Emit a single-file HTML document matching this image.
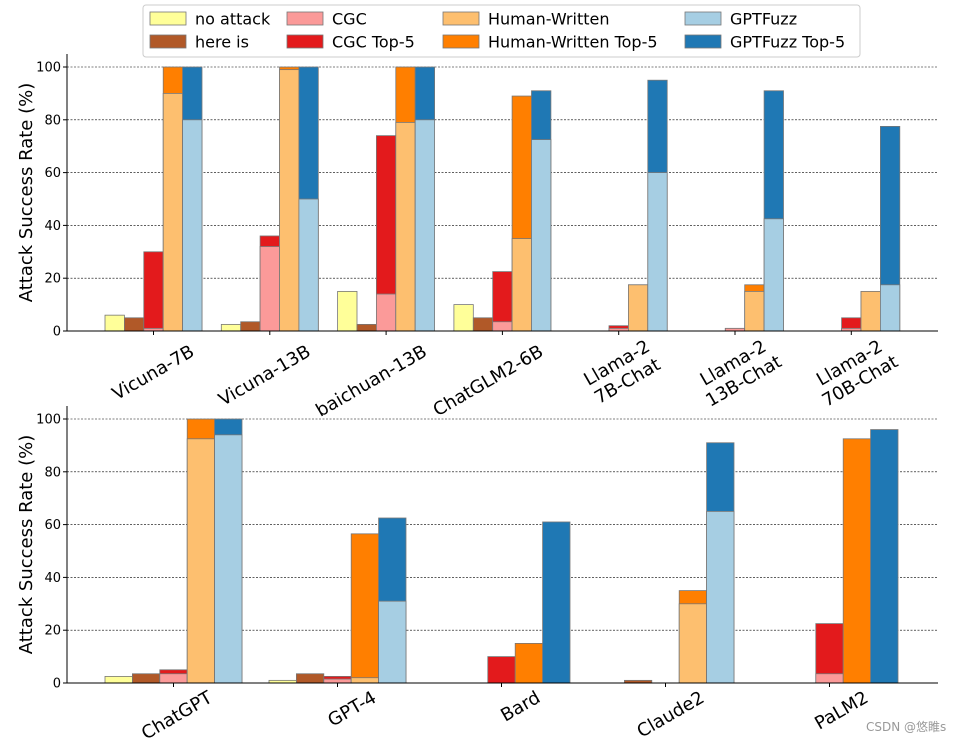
<!DOCTYPE html>
<html><head><meta charset="utf-8">
<style>
html,body{margin:0;padding:0;background:#fff;}
svg{display:block;font-family:"DejaVu Sans","Liberation Sans","Noto Sans CJK SC",sans-serif;}
</style></head>
<body>
<svg id="chart" width="962" height="742" viewBox="0 0 962 742" xmlns="http://www.w3.org/2000/svg">
<g id="legend"></g>
<g id="top"></g>
<g id="bot"></g>
<text x="866" y="731" font-size="12" fill="#999">CSDN @悠睢s</text>
</svg>
<script>
const topCategories = [["Vicuna-7B"],["Vicuna-13B"],["baichuan-13B"],["ChatGLM2-6B"],["Llama-2","7B-Chat"],["Llama-2","13B-Chat"],["Llama-2","70B-Chat"]];
const topNoAttack = [6,2.5,15,10,0,0,0];
const topHereIs = [5,3.5,2.5,5,0,0,0];
const topCGC = [1,32,14,3.5,1,1,1];
const topCGCTop5 = [30,36,74,22.5,2,1,5];
const topHW = [90,99,79,35,17.5,15,15];
const topHWTop5 = [100,100,100,89,17.5,17.5,15];
const topGF = [80,50,80,72.5,60,42.5,17.5];
const topGFTop5 = [100,100,100,91,95,91,77.5];

const botCategories = [["ChatGPT"],["GPT-4"],["Bard"],["Claude2"],["PaLM2"]];
const botNoAttack = [2.5,1,0,0,0];
const botHereIs = [3.5,3.5,0,1,0];
const botCGC = [3.5,1.5,0,0,3.5];
const botCGCTop5 = [5,2.5,10,0,22.5];
const botHW = [92.5,2,0,30,0];
const botHWTop5 = [100,56.5,15,35,92.5];
const botGF = [94,31,0,65,0];
const botGFTop5 = [100,62.5,61,91,96];

const yTicks = [0,20,40,60,80,100];
const legendLabels = ["no attack","here is","CGC","CGC Top-5","Human-Written","Human-Written Top-5","GPTFuzz","GPTFuzz Top-5"];
const C = {na:"#ffff99",hi:"#b15928",cgc:"#fb9a99",cgc5:"#e31a1c",hw:"#fdbf6f",hw5:"#ff7f00",gf:"#a6cee3",gf5:"#1f78b4"};
const legendColors = [C.na,C.hi,C.cgc,C.cgc5,C.hw,C.hw5,C.gf,C.gf5];
const NS="http://www.w3.org/2000/svg";
function mk(tag,attrs,parent){const e=document.createElementNS(NS,tag);for(const k in attrs)e.setAttribute(k,attrs[k]);parent.appendChild(e);return e;}

function panel(g,cfg){
  const y=v=>cfg.y0-(cfg.y0-cfg.y100)*v/100;
  const xc=i=>cfg.c0+cfg.pitch*i;
  const bw=cfg.bw;
  yTicks.forEach(t=>{
    if(t>0){const gl=mk("line",{x1:67,x2:938,y1:y(t),y2:y(t),stroke:"#000","stroke-width":0.6,"stroke-dasharray":"2,1.5"},g);
    
    }
    const tl=mk("text",{x:61,y:y(t)+4.5,"text-anchor":"end","font-size":13},g);tl.textContent=t;
    
    
    mk("line",{x1:63,x2:67,y1:y(t),y2:y(t),stroke:"#000"},g);
  });
  const bar=(x,v,col,name)=>{if(v<=0)return;const r=mk("rect",{x:x,y:y(v),width:bw,height:y(0)-y(v),fill:col,stroke:"#777","stroke-width":0.8},g);
    
    };
  cfg.cats.forEach((cat,i)=>{
    const x0=xc(i)-2.5*bw;
    bar(x0,cfg.na[i],C.na,'bar-no-attack');
    bar(x0+bw,cfg.hi[i],C.hi,'bar-here-is');
    bar(x0+2*bw,cfg.cgc5[i],C.cgc5,'bar-cgc-top5');
    bar(x0+2*bw,cfg.cgc[i],C.cgc,'bar-cgc');
    bar(x0+3*bw,cfg.hw5[i],C.hw5,'bar-hw-top5');
    bar(x0+3*bw,cfg.hw[i],C.hw,'bar-hw');
    bar(x0+4*bw,cfg.gf5[i],C.gf5,'bar-gptfuzz-top5');
    bar(x0+4*bw,cfg.gf[i],C.gf,'bar-gptfuzz');
    mk("line",{x1:xc(i),x2:xc(i),y1:y(0),y2:y(0)+4,stroke:"#000"},g);
    const multi=cat.length>1;
    const tx=xc(i)+(multi?34:cfg.lx), ty=y(0)+(multi?18:cfg.ly);
    const t=mk("text",{transform:`translate(${tx},${ty}) rotate(-30)`,"text-anchor":multi?"middle":"end","font-size":18},g);
    
    
    cat.forEach((line,k)=>{const s=mk("tspan",{x:multi?-38:0,dy:k?21:0},t);s.textContent=line;});
  });
  mk("line",{x1:67,x2:938,y1:y(0),y2:y(0),stroke:"#000","stroke-width":1},g);
  mk("line",{x1:67,x2:67,y1:y(0),y2:cfg.top,stroke:"#000","stroke-width":1},g);
  const yl=mk("text",{transform:`translate(32,${(y(0)+cfg.top)/2}) rotate(-90)`,"text-anchor":"middle","font-size":18},g);
  yl.textContent="Attack Success Rate (%)";
  
  
}
panel(document.getElementById("top"),{cats:topCategories,na:topNoAttack,hi:topHereIs,cgc:topCGC,cgc5:topCGCTop5,hw:topHW,hw5:topHWTop5,gf:topGF,gf5:topGFTop5,y0:331,y100:67,top:54,c0:153.5,pitch:116.3,bw:19.4,lx:42,ly:24});
panel(document.getElementById("bot"),{cats:botCategories,na:botNoAttack,hi:botHereIs,cgc:botCGC,cgc5:botCGCTop5,hw:botHW,hw5:botHWTop5,gf:botGF,gf5:botGFTop5,y0:683,y100:419,top:406,c0:173.5,pitch:164,bw:27.4,lx:40,ly:18});

const lg=document.getElementById("legend");
mk("rect",{x:143,y:5,width:717,height:52,rx:3,fill:"#fff",stroke:"#ccc"},lg);
const colX=[150,287,443,685];
legendLabels.forEach((lab,i)=>{
  const cx=colX[Math.floor(i/2)], cy=i%2?42:19;
  const r=mk("rect",{x:cx,y:cy-7,width:36,height:13,fill:legendColors[i],stroke:"#777","stroke-width":0.8},lg);
  
  
  const t=mk("text",{x:cx+45,y:cy+5.5,"font-size":16},lg);t.textContent=lab;
  
  
});
</script>
</body></html>
